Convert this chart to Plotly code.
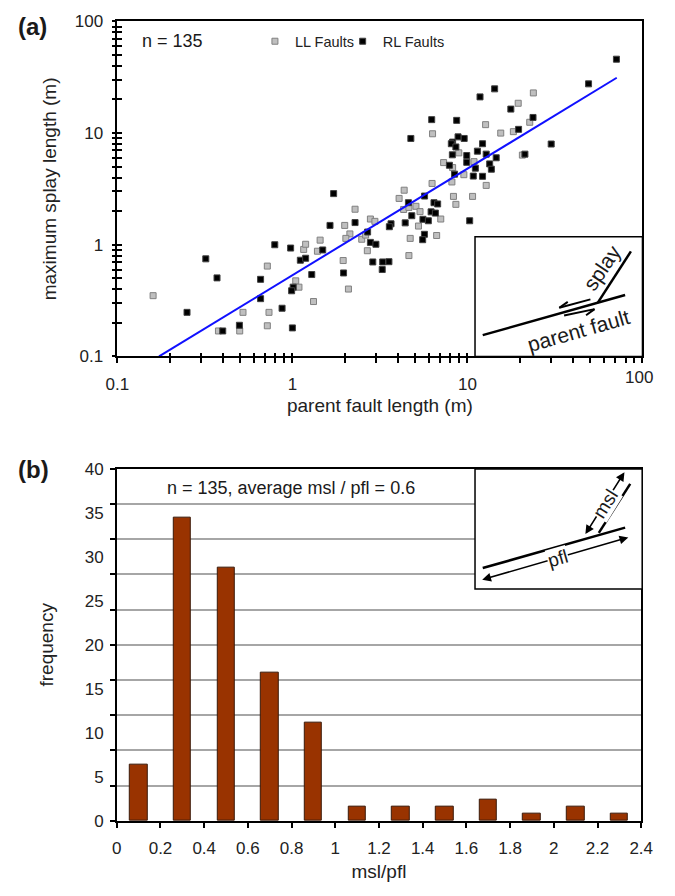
import plotly.graph_objects as go

# Figure sized slightly inside the 675x896 window so that the page never
# overflows (which would make the photograph shrink).
OFF = 4
W, H = 675 - 2 * OFF, 896 - 2 * OFF
FONT = "Liberation Sans, Arial, sans-serif"

# ---------------- Panel (a) data ----------------
ll_pfl = [0.16, 0.378, 0.50, 0.522, 0.719, 0.735, 0.719, 1.045, 1.09, 1.16, 1.19, 1.32, 1.39, 1.44,
          2.28, 1.99, 2.79, 2.96, 2.13, 2.02, 2.49, 2.62, 2.68, 1.95, 2.09, 4.35, 4.07, 4.32, 4.63,
          5.08, 5.36, 5.25, 4.71, 4.63, 6.28, 6.32, 23.8, 19.5, 22.7, 18.3, 15.5, 12.7, 8.93, 20.6,
          7.31, 8.23, 10.9, 9.54, 8.15, 12.8, 8.32, 10.7, 8.59, 7.04, 6.67]
ll_msl = [0.35, 0.169, 0.169, 0.248, 0.644, 0.248, 0.188, 0.475, 0.417, 0.908, 1.01, 0.31, 0.875, 1.10,
          2.08, 1.49, 1.70, 1.62, 1.25, 1.14, 1.12, 1.22, 0.884, 0.722, 0.401, 3.08, 2.60, 2.07, 2.16,
          2.21, 1.98, 1.47, 1.14, 0.80, 3.54, 9.86, 22.9, 18.5, 12.5, 10.3, 10.0, 11.9, 6.65, 6.35,
          5.44, 4.91, 5.55, 4.24, 3.65, 3.40, 2.71, 2.71, 2.30, 1.70, 1.21]
rl_pfl = [0.25, 0.32, 0.371, 0.40, 0.498, 0.658, 0.658, 0.793, 0.873, 0.977,
          1.01, 0.99, 1.0, 1.11, 1.19, 1.29, 1.49, 1.64, 1.72, 4.75,
          2.28, 3.66, 3.58, 2.69, 2.79, 3.0, 1.96, 2.88, 3.28, 3.56,
          3.26, 4.60, 5.69, 6.20, 6.56, 4.81, 4.41, 5.57, 5.98, 5.68,
          5.55, 14.3, 11.8, 17.7, 23.7, 19.6, 8.68, 6.25, 8.84, 9.58,
          8.23, 8.09, 8.59, 12.2, 8.20, 9.91, 11.4, 12.8, 14.6, 21.3,
          7.89, 9.91, 11.1, 13.4, 13.7, 8.44, 10.8, 12.2, 6.44, 6.76,
          10.3, 71.0, 49.2, 30.1]
rl_msl = [0.248, 0.748, 0.505, 0.169, 0.190, 0.49, 0.329, 1.0, 0.27, 0.934,
          0.417, 0.387, 0.18, 0.727, 0.757, 0.541, 0.898, 1.49, 2.87, 8.95,
          1.58, 1.54, 1.45, 1.30, 1.05, 1.01, 0.559, 0.701, 0.701, 0.705,
          0.60, 2.38, 2.73, 1.97, 1.92, 1.82, 1.57, 1.69, 1.64, 1.24,
          1.11, 24.9, 21.1, 16.4, 13.8, 10.8, 13.0, 13.2, 9.25, 8.95,
          8.30, 8.03, 7.51, 8.03, 6.39, 6.30, 6.89, 6.48, 6.01, 6.48,
          5.15, 5.47, 4.85, 5.30, 4.75, 4.29, 4.12, 4.10, 2.38, 2.32,
          1.64, 45.9, 27.6, 7.98]
fit_pfl = [0.173, 71.3]
fit_msl = [0.1, 31.3]
log_ticks = [0.1, 1, 10, 100]
log_tick_text = ["0.1", "1", "10", "100"]
log_tick_text_x = ["0.1", "1", "10", ""]      # "100" is drawn right-aligned below
log_minor = [0.2, 0.3, 0.4, 0.5, 0.6, 0.7, 0.8, 0.9, 2, 3, 4, 5, 6, 7, 8, 9,
             20, 30, 40, 50, 60, 70, 80, 90]

# ---------------- Panel (b) data ----------------
bin_centers = [0.1, 0.3, 0.5, 0.7, 0.9, 1.1, 1.3, 1.5, 1.7, 1.9, 2.1, 2.3]
frequency = [6.4, 34.4, 28.8, 16.8, 11.2, 1.6, 1.6, 1.6, 2.4, 0.8, 1.6, 0.8]
x_ticks = [0, 0.2, 0.4, 0.6, 0.8, 1.0, 1.2, 1.4, 1.6, 1.8, 2.0, 2.2, 2.4]
x_tick_text = ["0", "0.2", "0.4", "0.6", "0.8", "1", "1.2", "1.4", "1.6", "1.8", "2", "2.2", "2.4"]
y_label_ticks = [0, 5, 10, 15, 20, 25, 30, 35, 40]
y_grid_ticks = [0, 4, 8, 12, 16, 20, 24, 28, 32, 36, 40]


def px(x):
    return (x - OFF) / W


def py(y):
    return 1 - (y - OFF) / H


fig = go.Figure()

fig.add_trace(go.Scatter(x=ll_pfl, y=ll_msl, mode="markers", name="LL Faults", legend="legend",
                         marker=dict(symbol="square", size=6, color="#bfbfbf",
                                     line=dict(color="#808080", width=1)),
                         xaxis="x", yaxis="y"))
fig.add_trace(go.Scatter(x=rl_pfl, y=rl_msl, mode="markers", name="RL Faults", legend="legend2",
                         marker=dict(symbol="square", size=6, color="#000000",
                                     line=dict(color="#404040", width=1)),
                         xaxis="x", yaxis="y"))
fig.add_trace(go.Scatter(x=fit_pfl, y=fit_msl, mode="lines", showlegend=False,
                         line=dict(color="#1010ff", width=2), xaxis="x", yaxis="y"))
# dummy traces to activate overlay axes (cross ticks)
fig.add_trace(go.Scatter(x=[None], y=[None], xaxis="x3", yaxis="y", showlegend=False, hoverinfo="skip"))
fig.add_trace(go.Scatter(x=[None], y=[None], xaxis="x", yaxis="y3", showlegend=False, hoverinfo="skip"))

fig.add_trace(go.Bar(x=bin_centers, y=frequency, width=0.08, showlegend=False,
                     marker=dict(color="#993300", line=dict(color="#3a1a0a", width=1)),
                     xaxis="x2", yaxis="y2"))
fig.add_trace(go.Scatter(x=[None], y=[None], xaxis="x2", yaxis="y4", showlegend=False, hoverinfo="skip"))

axis_font = dict(family=FONT, size=17, color="#222")
title_font = dict(family=FONT, size=19, color="#222")
legend_font = dict(family=FONT, size=14.5, color="#222")

dom_ax = [px(113.3), px(658)]
dom_ay = [py(359), py(16.7)]
dom_bx = [px(112.7), px(656.7)]
dom_by = [py(833.7), py(473.7)]

fig.update_layout(
    width=W, height=H, margin=dict(l=0, r=0, t=0, b=0),
    paper_bgcolor="white", plot_bgcolor="white",
    font=dict(family=FONT, color="#222"),
    showlegend=True,
    legend=dict(orientation="h", x=px(256), y=py(37), xanchor="left", yanchor="middle",
                font=legend_font, bgcolor="rgba(0,0,0,0)", itemwidth=30),
    legend2=dict(orientation="h", x=px(347), y=py(37), xanchor="left", yanchor="middle",
                 font=legend_font, bgcolor="rgba(0,0,0,0)", itemwidth=30),
    xaxis=dict(type="log", range=[-1, 2], domain=dom_ax, anchor="y",
               tickmode="array", tickvals=log_ticks, ticktext=log_tick_text_x,
               ticks="outside", ticklen=5, tickwidth=1.5, tickcolor="black",
               minor=dict(tickmode="array", tickvals=log_minor, ticks="outside", ticklen=5,
                          tickwidth=1.5, tickcolor="black", showgrid=False),
               ticklabelstandoff=6,
               showgrid=False, zeroline=False, showline=True, linecolor="black", linewidth=1.5,
               mirror=True, tickfont=axis_font,
               title=dict(text="parent fault length (m)", font=title_font, standoff=6)),
    xaxis3=dict(type="log", range=[-1, 2], overlaying="x", anchor="y", side="bottom",
                tickmode="array", tickvals=log_ticks, ticks="inside", ticklen=3, tickwidth=1.5,
                tickcolor="black",
                minor=dict(tickmode="array", tickvals=log_minor, ticks="inside", ticklen=3,
                           tickwidth=1.5, tickcolor="black", showgrid=False),
                showticklabels=False, showgrid=False, zeroline=False, showline=False),
    yaxis=dict(type="log", range=[-1, 2], domain=dom_ay, anchor="x",
               tickmode="array", tickvals=log_ticks, ticktext=log_tick_text,
               ticks="outside", ticklen=4, tickwidth=1.5, tickcolor="black",
               minor=dict(tickmode="array", tickvals=log_minor, ticks="outside", ticklen=4,
                          tickwidth=1.5, tickcolor="black", showgrid=False),
               ticklabelstandoff=5, ticklabeloverflow="allow",
               showgrid=False, zeroline=False, showline=True, linecolor="black", linewidth=1.5,
               mirror=True, tickfont=axis_font,
               title=dict(text="maximum splay length (m)", font=title_font, standoff=13)),
    yaxis3=dict(type="log", range=[-1, 2], overlaying="y", anchor="x", side="left",
                tickmode="array", tickvals=log_ticks, ticks="inside", ticklen=5, tickwidth=1.5,
                tickcolor="black",
                minor=dict(tickmode="array", tickvals=log_minor, ticks="inside", ticklen=5,
                           tickwidth=1.5, tickcolor="black", showgrid=False),
                showticklabels=False, showgrid=False, zeroline=False, showline=False),
    xaxis2=dict(range=[0, 2.4], domain=dom_bx, anchor="y2",
                tickmode="array", tickvals=x_ticks, ticktext=x_tick_text,
                ticks="outside", ticklen=5, tickwidth=1.5, tickcolor="black",
                ticklabelstandoff=6, ticklabeloverflow="allow",
                showgrid=False, zeroline=False, showline=True, linecolor="black", linewidth=1.5,
                mirror=True, tickfont=axis_font,
                title=dict(text="msl/pfl", font=title_font, standoff=8)),
    yaxis2=dict(range=[0, 40], domain=dom_by, anchor="x2",
                tickmode="array", tickvals=y_grid_ticks,
                ticks="outside", ticklen=5, tickwidth=1.5, tickcolor="black",
                showticklabels=False, showgrid=True, gridcolor="#a6a6a6", gridwidth=1.5,
                zeroline=False, showline=True, linecolor="black", linewidth=1.5, mirror=True),
    yaxis4=dict(range=[0, 40], overlaying="y2", anchor="x2", side="left",
                tickmode="array", tickvals=y_label_ticks, ticks="", ticklabelstandoff=12,
                ticklabeloverflow="allow",
                showgrid=False, zeroline=False, showline=False, tickfont=axis_font,
                title=dict(text="frequency", font=title_font, standoff=26)),
    bargap=0,
)

shapes = []
annotations = []


def note(text, x, y, size=15, angle=0, xanchor="center", **kw):
    annotations.append(dict(text=text, x=px(x), y=py(y), xref="paper", yref="paper",
                            xanchor=xanchor, yanchor="middle", showarrow=False, textangle=angle,
                            font=dict(family=FONT, size=size, color="#1a1a1a"), **kw))


# panel labels and notes
note("<b>(a)</b>", 25, 22, size=24)
note("<b>(b)</b>", 26, 475, size=24)
note("n = 135", 137, 37, size=18, xanchor="left")
note("n = 135, average msl / pfl = 0.6", 293, 493, size=18)
# last x tick label of panel (a), kept inside the page edge
annotations.append(dict(text="100", x=1, y=py(359), xref="paper", yref="paper",
                        xanchor="right", yanchor="top", yshift=-10, showarrow=False,
                        font=axis_font))

# ---- inset (a) ----
shapes.append(dict(type="rect", xref="paper", yref="paper", x0=px(484.3), x1=px(658),
                   y0=py(359), y1=py(236.7), fillcolor="white", line=dict(color="black", width=1.5),
                   layer="above"))


def seg(x0, y0, x1, y1, w=2.5):
    shapes.append(dict(type="line", xref="paper", yref="paper", x0=px(x0), y0=py(y0),
                       x1=px(x1), y1=py(y1), line=dict(color="black", width=w), layer="above"))


seg(492.3, 337.3, 640, 296.3)          # parent fault
seg(611.7, 304, 646, 251.7)            # splay
# harpoons
seg(604, 300.7, 571.7, 309.3, 2)
seg(571.7, 309.3, 580.5, 303.3, 2)
seg(576.7, 317.3, 608.3, 310.7, 2)
seg(608.3, 310.7, 599.5, 316.9, 2)
note("splay", 616, 268, size=21, angle=-56)
note("parent fault", 592, 333, size=21, angle=-16)

# ---- inset (b) ----
shapes.append(dict(type="rect", xref="paper", yref="paper", x0=px(484.3), x1=px(657.7),
                   y0=py(596.7), y1=py(474), fillcolor="white", line=dict(color="black", width=1.5),
                   layer="above"))
seg(492.3, 575.3, 640, 534)            # parent fault
seg(612.7, 539.3, 645.3, 489.3)        # splay


def darrow(x0, y0, x1, y1):
    annotations.append(dict(text="", x=px(x1), y=py(y1), xref="paper", yref="paper",
                            ax=x0 - x1, ay=y0 - y1, axref="pixel", ayref="pixel",
                            showarrow=True, arrowhead=2, arrowside="end+start", arrowsize=1.1,
                            arrowwidth=1.6, arrowcolor="black", standoff=0, startstandoff=0))


darrow(599.3, 540.7, 639.3, 477.3)
darrow(495.7, 586.7, 643.3, 544)
note("msl", 619.5, 509, size=19, angle=-58, bgcolor="white", borderpad=0)
note("pfl", 570, 566, size=19, angle=-16, bgcolor="white", borderpad=0)

fig.update_layout(shapes=shapes, annotations=annotations)

fig.write_html("out.html")
